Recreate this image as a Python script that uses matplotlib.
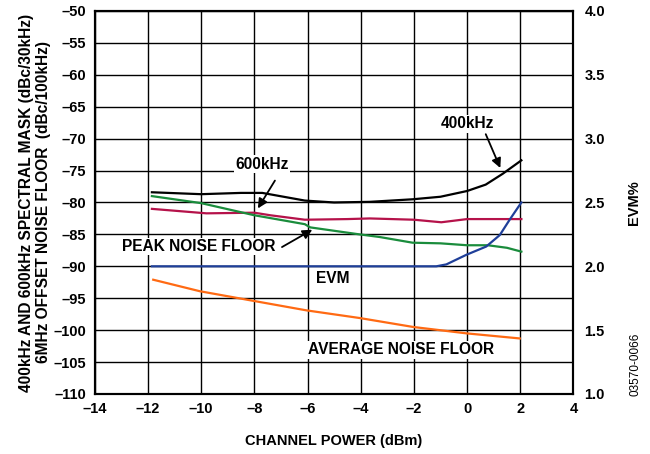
import matplotlib
matplotlib.use("Agg")
import matplotlib.pyplot as plt

plt.rcParams['font.family'] = ['Liberation Sans', 'DejaVu Sans']
plt.rcParams['font.weight'] = 'bold'

# channel power (dBm)
pwr_400 = [-11.85, -10, -8.5, -7.7, -6.1, -5, -3.66, -2.05, -1, 0, 0.7, 1.34, 2.04]
val_400 = [-78.4, -78.7, -78.5, -78.5, -79.7, -80.0, -79.9, -79.5, -79.1, -78.2, -77.2, -75.5, -73.4]

pwr_600 = [-11.85, -9.8, -8.0, -7.4, -6.1, -4.5, -3.66, -2.0, -0.97, 0, 1.0, 2.04]
val_600 = [-81.0, -81.7, -81.6, -82.0, -82.7, -82.6, -82.5, -82.7, -83.1, -82.6, -82.6, -82.6]

pwr_peak = [-11.85, -10, -8, -6.1, -5.9, -4.04, -3.3, -2.05, -1, 0, 0.78, 1.5, 2.04]
val_peak = [-79.0, -80.1, -82.0, -83.4, -83.9, -85.0, -85.4, -86.3, -86.4, -86.7, -86.7, -87.1, -87.7]

pwr_evm = [-11.85, -6, -2, -1.16, -0.78, -0.03, 0.72, 1.23, 1.6, 2.04]
val_evm = [2.0, 2.0, 2.0, 2.0, 2.015, 2.09, 2.155, 2.245, 2.365, 2.5]  # EVM%

pwr_avg = [-11.8, -10.05, -8.05, -6.04, -4.04, -2.03, -0.03, 1.98]
val_avg = [-92.1, -93.9, -95.4, -96.9, -98.1, -99.5, -100.5, -101.3]

xticks = list(range(-14, 5, 2))
yticks = list(range(-110, -49, 5))
evm_ticks = [1.0, 1.5, 2.0, 2.5, 3.0, 3.5, 4.0]

fig = plt.figure(figsize=(6.5, 4.54), dpi=100)
ax = fig.add_axes([0.1457, 0.1322, 0.7366, 0.8436])
ax2 = ax.twinx()

ax.plot(pwr_400, val_400, color='black', lw=1.6, zorder=3)
ax.plot(pwr_600, val_600, color='#b5124a', lw=1.6, zorder=3)
ax.plot(pwr_peak, val_peak, color='#1a8c3c', lw=1.6, zorder=3)
ax.plot(pwr_avg, val_avg, color='#ff6a13', lw=1.6, zorder=3)
ax2.plot(pwr_evm, val_evm, color='#1f3f99', lw=1.6, zorder=3)

ax.set_xlim(-14, 4)
ax.set_ylim(-110, -50)
ax2.set_ylim(1.0, 4.0)
ax.set_xticks(xticks)
ax.set_yticks(yticks)
ax2.set_yticks(evm_ticks)
ax.set_xticklabels([str(t).replace('-', '\u2013') for t in xticks])
ax.set_yticklabels([str(t).replace('-', '\u2013') for t in yticks])
ax2.set_yticklabels(['%.1f' % t for t in evm_ticks])
ax.grid(True, color='black', lw=1.0)
ax.tick_params(length=0, labelsize=10.5, pad=6)
ax2.tick_params(length=0, labelsize=10.5, pad=8)
for a in (ax, ax2):
    for s in a.spines.values():
        s.set_linewidth(1.5)

ax.set_xlabel('CHANNEL POWER (dBm)', fontsize=10.5, fontweight='bold', labelpad=13)
ax.set_ylabel('400kHz AND 600kHz SPECTRAL MASK (dBc/30kHz)\n6MHz OFFSET NOISE FLOOR  (dBc/100kHz)',
              fontsize=11.2, fontweight='bold', labelpad=2, linespacing=1.15)
ax2.set_ylabel('EVM%', fontsize=10.5, fontweight='bold', labelpad=16)

bb = dict(facecolor='white', edgecolor='none', pad=1)
fs = 11.2
ax.text(-7.7, -74.0, '600kHz', ha='center', va='center', fontsize=fs, fontweight='bold', bbox=bb, zorder=5)
ax.annotate('', xy=(-7.92, -81.3), xytext=(-7.17, -76.2),
            arrowprops=dict(arrowstyle='-|>', color='black', lw=1.3, mutation_scale=14), zorder=5)
ax.text(0.02, -67.7, '400kHz', ha='center', va='center', fontsize=fs, fontweight='bold', bbox=bb, zorder=5)
ax.annotate('', xy=(1.29, -75.0), xytext=(0.66, -68.9),
            arrowprops=dict(arrowstyle='-|>', color='black', lw=1.3, mutation_scale=14), zorder=5)
ax.text(-10.1, -86.9, 'PEAK NOISE FLOOR', ha='center', va='center', fontsize=fs, fontweight='bold', bbox=bb, zorder=5)
ax.annotate('', xy=(-5.73, -84.05), xytext=(-7.05, -87.2),
            arrowprops=dict(arrowstyle='-|>', color='black', lw=1.3, mutation_scale=14), zorder=5)
ax.text(-5.04, -91.9, 'EVM', ha='center', va='center', fontsize=fs, fontweight='bold', zorder=5)
ax.text(-2.47, -103.1, 'AVERAGE NOISE FLOOR', ha='center', va='center', fontsize=fs, fontweight='bold', bbox=bb, zorder=5)

fig.text(0.977, 0.198, '03570-0066', rotation=90, ha='center', va='center', fontsize=8.5, fontweight='normal')

fig.savefig('out.png', dpi=100)
